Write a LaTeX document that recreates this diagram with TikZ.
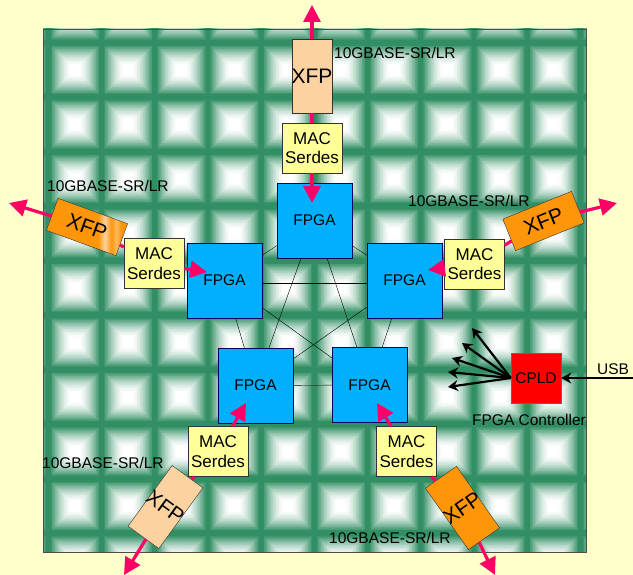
\documentclass[tikz,border=0pt]{standalone}
\usepackage{fontspec}
\setmainfont{Liberation Sans}
\usetikzlibrary{arrows.meta}
\definecolor{creambg}{RGB}{255,255,204}
\definecolor{tilegreen}{RGB}{50,143,100}
\definecolor{macyellow}{RGB}{255,255,153}
\definecolor{fpgablue}{RGB}{0,176,255}
\definecolor{xfptan}{RGB}{252,211,160}
\definecolor{xfporange}{RGB}{255,150,10}
\definecolor{linkpink}{RGB}{255,0,102}
\pgfdeclarehorizontalshading{xfpstripe}{100bp}{color(0bp)=(xfporange); color(57bp)=(xfporange); color(61bp)=(xfptan); color(65bp)=(xfporange); color(68bp)=(xfptan!60!xfporange); color(71bp)=(xfporange); color(100bp)=(xfporange)}
\tikzset{
	fpga/.style = {draw=blue!40!black, fill=fpgablue, minimum size=75pt, inner sep=0pt, font=\fontsize{15.5}{18}\selectfont},
	mac/.style = {draw=black!80, fill=macyellow, minimum width=60pt, minimum height=50pt, inner sep=0pt, align=center, font=\fontsize{17}{19.5}\selectfont},
	xfp/.style = {draw=black!80, inner sep=0pt, font=\fontsize{21}{24}\selectfont},
	rate/.style = {inner sep=0pt, font=\fontsize{15.5}{18}\selectfont},
	link/.style = {draw=linkpink, line width=3.2pt},
	linkout/.style = {link, arrows=-{Triangle[length=17pt,width=17pt]}},
	ctrl/.style = {draw=black, line width=2.2pt, arrows=-{Stealth[length=10pt,width=11pt]}},
	tile/.pic = {
		\foreach \s in {28,27.25,...,2} {
			\pgfmathtruncatemacro{\p}{100*min(1,max(0,(\s-4)/21))^1.6}
			\fill[tilegreen!\p!white] (-\s,-\s) rectangle (\s,\s);
		}
	}
}
\begin{document}
\begin{tikzpicture}[x=1pt,y=-1pt]
	\useasboundingbox (0,0) rectangle (633,575);
	\fill[creambg] (0,0) rectangle (633,575);
	% panel
	\begin{scope}
		\clip (43,29) rectangle (586,552);
		\foreach \i in {-1,...,10}
			\foreach \j in {-1,...,9}
				\pic at ({75+53.2*\i},{70+54.5*\j}) {tile};
	\end{scope}
	\node[draw=black!70, fill=none, minimum width=543pt, minimum height=523pt, inner sep=0pt] (panel) at (314.5,290.5) {};

	% fpgas
	\node[fpga] (f1) at (314.5,220.5) {FPGA};
	\node[fpga] (f2) at (224.5,280.5) {FPGA};
	\node[fpga] (f3) at (404.5,280.5) {FPGA};
	\node[fpga] (f4) at (255.5,385.5) {FPGA};
	\node[fpga] (f5) at (369.5,385) {FPGA};

	\foreach \a/\b in {f1/f2,f1/f3,f1/f4,f1/f5,f2/f4,f2/f5,f3/f4,f3/f5,f4/f5}
		\draw[black] (\a) -- (\b);
	\draw[black] ([yshift=-2.5pt]f2.east) -- ([yshift=-2.5pt]f3.west);

	% mac blocks
	\node[mac] (m1) at (312,148) {MAC\\Serdes};
	\node[mac] (m2) at (154,263.5) {MAC\\Serdes};
	\node[mac] (m3) at (474.5,264) {MAC\\Serdes};
	\node[mac] (m4) at (218,451.5) {MAC\\Serdes};
	\node[mac] (m5) at (406.5,451.5) {MAC\\Serdes};

	% xfp modules
	\node[xfp, fill=xfptan, minimum width=40pt, minimum height=74pt] (x1) at (312,76) {\makebox[0pt]{XFP}};
	\node[xfp, shade, shading=xfpstripe, rotate=-20, minimum width=74pt, minimum height=34pt] (x2) at (87,227) {XFP};
	\node[xfp, fill=xfporange, rotate=22, minimum width=74pt, minimum height=34pt] (x3) at (543.5,221) {XFP};
	\node[xfp, fill=xfptan, rotate=-36, minimum width=38pt, minimum height=75pt] (x4) at (165.5,507) {\makebox[0pt]{XFP}};
	\node[xfp, fill=xfporange, rotate=35, minimum width=38pt, minimum height=75pt] (x5) at (462.5,508) {\makebox[0pt]{XFP}};

	% free ends
	\coordinate (o1) at (312,5);
	\coordinate (o2) at (9,203);
	\coordinate (o3) at (617,203);
	\coordinate (o4) at (124,575);
	\coordinate (o5) at (495,575);
	\coordinate (t2) at (207,272);
	\coordinate (t3) at (428,270);
	\coordinate (t4) at (246,403);
	\coordinate (t5) at (377,403);
	\coordinate (t1) at (312,203);

	\foreach \n in {1,...,5} {
		\draw[linkout] (x\n) -- (o\n);
		\draw[link] (x\n) -- (m\n);
		\draw[linkout] (m\n) -- (t\n);
	}

	% rate labels
	\node[rate, anchor=west] (r1) at (334,53) {10GBASE-SR/LR};
	\node[rate, anchor=west] (r2) at (47,186) {10GBASE-SR/LR};
	\node[rate, anchor=west] (r3) at (408,201) {10GBASE-SR/LR};
	\node[rate, anchor=west] (r4) at (42,463) {10GBASE-SR/LR};
	\node[rate, anchor=west] (r5) at (329,538) {10GBASE-SR/LR};

	% controller
	\node[draw=black!60, fill=red, minimum size=50pt, inner sep=0pt, font=\fontsize{15.5}{18}\selectfont] (cpld) at (536,378) {CPLD};
	\node[rate, below of=cpld, node distance=42pt, xshift=-7pt] (ctrllabel) {FPGA Controller};
	\coordinate (usbin) at (633,378);
	\node[rate] (usblabel) at (613,369) {USB};
	\draw[ctrl] (usbin) -- (cpld);
	\coordinate (c1) at (472,328);
	\coordinate (c2) at (462,343);
	\coordinate (c3) at (452,358);
	\coordinate (c4) at (448,372);
	\coordinate (c5) at (448,387);
	\foreach \n in {1,...,5}
		\draw[ctrl] (cpld.west) -- (c\n);
\end{tikzpicture}
\end{document}
